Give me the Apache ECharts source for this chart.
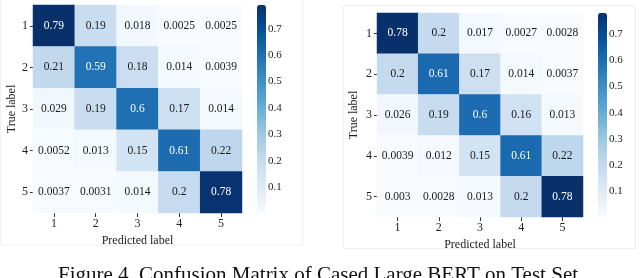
<!DOCTYPE html>
<html><head><meta charset="utf-8">
<script src="https://cdn.jsdelivr.net/npm/echarts@6/dist/echarts.min.js"></script>
<style>html,body{margin:0;padding:0;background:#fff}#c{width:640px;height:278px}</style>
</head><body><div id="c"></div>
<script>
const labels = ['1','2','3','4','5'];
const leftMatrix = [
  [0.79, 0.19, 0.018, 0.0025, 0.0025],
  [0.21, 0.59, 0.18, 0.014, 0.0039],
  [0.029, 0.19, 0.6, 0.17, 0.014],
  [0.0052, 0.013, 0.15, 0.61, 0.22],
  [0.0037, 0.0031, 0.014, 0.2, 0.78]
];
const rightMatrix = [
  [0.78, 0.2, 0.017, 0.0027, 0.0028],
  [0.2, 0.61, 0.17, 0.014, 0.0037],
  [0.026, 0.19, 0.6, 0.16, 0.013],
  [0.0039, 0.012, 0.15, 0.61, 0.22],
  [0.003, 0.0028, 0.013, 0.2, 0.78]
];
const colorbarTicks = [0.1, 0.2, 0.3, 0.4, 0.5, 0.6, 0.7];
const xName = 'Predicted label';
const yName = 'True label';
const caption = 'Figure 4. Confusion Matrix of Cased Large BERT on Test Set';

const FONT = '"Liberation Serif","DejaVu Serif",serif';
const blues = ['#f7fbff','#deebf7','#c6dbef','#9ecae1','#6baed6','#4292c6','#2171b5','#08519c','#08306b'];

function flat(m){ return m.flat(); }
function minOf(m){ return Math.min(...flat(m)); }
function maxOf(m){ return Math.max(...flat(m)); }
function toData(m){
  const lo = minOf(m), hi = maxOf(m), th = (lo+hi)/2;
  const out = [];
  m.forEach((row, r) => row.forEach((v, c) => {
    out.push({value:[c, r, v], label:{color: v > th ? '#ffffff' : '#1a1a1a'}});
  }));
  return out;
}

const L = {grid:{left:33, top:5, width:209, height:208}, cb:{left:257, top:5, width:9, height:208}};
const R = {grid:{left:377, top:13, width:206, height:204}, cb:{left:598, top:13, width:9, height:204}};

function heatAxes(gi, yGap){
  return {
    x: {type:'category', gridIndex:gi, data:labels, position:'bottom',
        axisLine:{show:false}, axisTick:{show:true, alignWithLabel:true, length:4, lineStyle:{color:'#333'}},
        axisLabel:{fontFamily:FONT, fontSize:12, color:'#222', margin:5},
        splitLine:{show:false},
        name:xName, nameLocation:'middle', nameGap:18, nameTextStyle:{fontFamily:FONT, fontSize:12, color:'#222'}},
    y: {type:'category', gridIndex:gi, data:labels, inverse:true,
        axisLine:{show:false}, axisTick:{show:true, alignWithLabel:true, length:3, lineStyle:{color:'#333'}},
        axisLabel:{fontFamily:FONT, fontSize:12, color:'#222', margin:5},
        splitLine:{show:false},
        name:yName, nameLocation:'middle', nameGap:yGap, nameRotate:90, nameTextStyle:{fontFamily:FONT, fontSize:12, color:'#222'}}
  };
}
function cbAxes(gi, m){
  return {
    x:{type:'value', gridIndex:gi, show:false, min:0, max:1},
    y:{type:'value', gridIndex:gi, position:'right', min:minOf(m), max:maxOf(m),
       axisLine:{show:false},
       axisTick:{show:true, length:3, customValues:colorbarTicks, lineStyle:{color:'#333'}},
       axisLabel:{show:true, customValues:colorbarTicks, formatter:v=>v.toFixed(1), fontFamily:FONT, fontSize:11, color:'#222', margin:2},
       splitLine:{show:false}}
  };
}
const a0 = heatAxes(0, 15), a1 = heatAxes(1, 17), c0 = cbAxes(2, leftMatrix), c1 = cbAxes(3, rightMatrix);

function heatSeries(xi, m){
  return {type:'heatmap', xAxisIndex:xi, yAxisIndex:xi, data:toData(m),
    label:{show:true, fontFamily:FONT, fontSize:11.5, formatter:p=>String(p.value[2])},
    itemStyle:{borderWidth:0}, emphasis:{disabled:true}, progressive:0};
}
function vm(si, m, cb){
  return {type:'continuous', seriesIndex:si, min:minOf(m), max:maxOf(m), show:true, calculable:false,
    orient:'vertical', left:cb.left, top:cb.top, itemWidth:cb.width, itemHeight:cb.height, padding:0,
    text:null, showLabel:false, hoverLink:false, inRange:{color:blues}};
}

const chart = echarts.init(document.getElementById('c'), null, {renderer:'canvas'});
chart.setOption({
  animation:false,
  backgroundColor:'#ffffff',
  grid:[L.grid, R.grid, L.cb, R.cb].map(g => Object.assign({containLabel:false}, g)),
  xAxis:[a0.x, a1.x, c0.x, c1.x],
  yAxis:[a0.y, a1.y, c0.y, c1.y],
  visualMap:[vm(0, leftMatrix, L.cb), vm(1, rightMatrix, R.cb)],
  series:[heatSeries(0, leftMatrix), heatSeries(1, rightMatrix)],
  graphic:[
    {type:'rect', shape:{x:0.5, y:-1, width:302, height:246}, style:{fill:'none', stroke:'#efefef', lineWidth:1}, silent:true, z:-1},
    {type:'rect', shape:{x:343.5, y:5.5, width:292, height:243}, style:{fill:'none', stroke:'#efefef', lineWidth:1}, silent:true, z:-1},
    {type:'text', x:318, y:265, style:{text:caption, font:'21px "Liberation Serif", serif', fill:'#111', align:'center', verticalAlign:'top'}, silent:true}
  ]
});
</script></body></html>
